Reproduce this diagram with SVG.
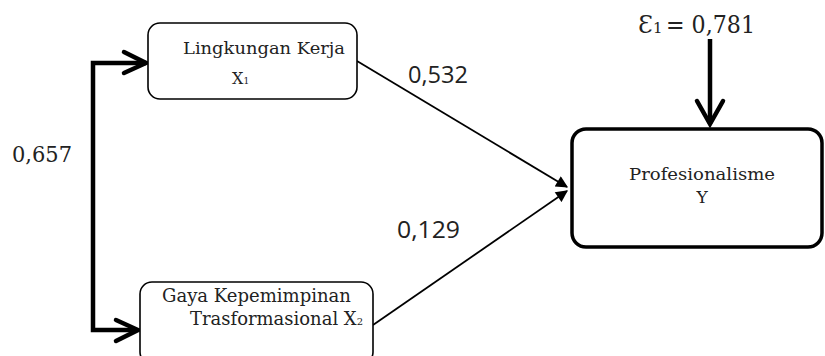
<svg xmlns="http://www.w3.org/2000/svg" width="825" height="356" viewBox="0 0 825 356">
<style>
.box{fill:#fff;stroke:#000;stroke-width:1.6}
.boxy{fill:#fff;stroke:#000;stroke-width:3.5}
.t{font-family:"DejaVu Serif","Liberation Serif",serif;fill:#222}
.n{font-family:"Open Sans","Liberation Sans",sans-serif;fill:#222}
.thin{stroke:#000;stroke-width:1.8;fill:none}
.thick{stroke:#000;stroke-width:4.5;fill:none;stroke-linejoin:miter}
.chev{stroke:#000;stroke-width:4.5;fill:none;stroke-linecap:round;stroke-linejoin:miter}
</style>
<defs>
<marker id="ah2" viewBox="0 0 10 10" refX="9" refY="5" markerWidth="14" markerHeight="12" markerUnits="userSpaceOnUse" orient="auto">
<path d="M0,0 L10,5 L0,10 Z" fill="#000"/>
</marker>
</defs>
<g id="connectors">
<path class="thin" d="M357,61 L567,187" marker-end="url(#ah2)"/>
<path class="thin" d="M373,325 L567,191" marker-end="url(#ah2)"/>
<path class="thick" d="M146,63 L93,63 L93,330 L137,330"/>
<path class="chev" d="M124,52 L146,63 L124,73"/>
<path class="chev" d="M116,320 L138,330 L116,341"/>
<path class="thick" d="M710,39 L710,124"/>
<path class="chev" d="M697,101 L710,124 L723,101"/>
</g>
<g id="node-x1">
<rect class="box" x="148" y="23" width="209" height="76" rx="12"/>
<text class="t" x="183" y="54" font-size="17" textLength="162" lengthAdjust="spacingAndGlyphs">Lingkungan Kerja</text>
<text class="t" x="232" y="84" font-size="16">X<tspan font-size="9">1</tspan></text>
</g>
<g id="node-x2">
<rect class="box" x="140" y="282" width="233" height="82" rx="12"/>
<text class="t" x="162" y="302" font-size="18" textLength="189" lengthAdjust="spacingAndGlyphs">Gaya Kepemimpinan</text>
<text class="t" x="190" y="325" font-size="18" textLength="173" lengthAdjust="spacingAndGlyphs">Trasformasional X<tspan font-size="10">2</tspan></text>
</g>
<g id="node-y">
<rect class="boxy" x="572" y="129" width="250" height="118" rx="14"/>
<text class="t" x="702" y="180" font-size="17" text-anchor="middle" textLength="146" lengthAdjust="spacingAndGlyphs">Profesionalisme</text>
<text class="t" x="702" y="203" font-size="17" text-anchor="middle">Y</text>
</g>
<g id="labels">
<text class="n" x="408" y="83" font-size="23" textLength="60" lengthAdjust="spacingAndGlyphs">0,532</text>
<text class="n" x="397" y="238" font-size="23" textLength="63" lengthAdjust="spacingAndGlyphs">0,129</text>
<text class="t" x="12" y="162" font-size="22" textLength="60" lengthAdjust="spacingAndGlyphs">0,657</text>
<text class="t" x="638" y="33" font-size="24">Ɛ</text>
<text class="t" x="653" y="33" font-size="15">1</text>
<text class="t" x="666" y="33" font-size="25" textLength="89" lengthAdjust="spacingAndGlyphs">= 0,781</text>
</g>
</svg>
